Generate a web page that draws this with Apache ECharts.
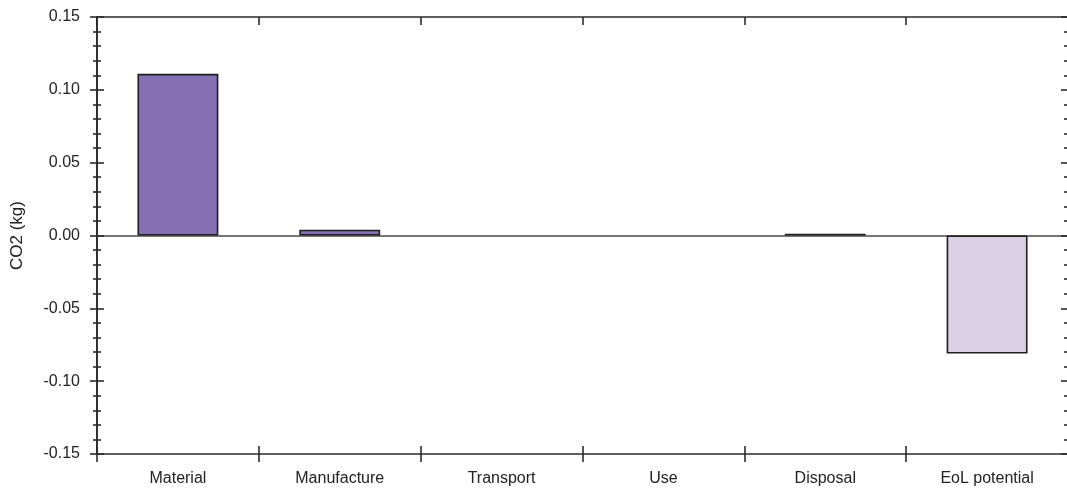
<!DOCTYPE html>
<html>
<head>
<meta charset="utf-8">
<script src="https://cdn.jsdelivr.net/npm/echarts@6/dist/echarts.min.js"></script>
<style>html,body{margin:0;padding:0;background:#fff;}#c{width:1067px;height:491px;}</style>
</head>
<body>
<div id="c"></div>
<script>
var categories = ['Material', 'Manufacture', 'Transport', 'Use', 'Disposal', 'EoL potential'];
var values = [0.111, 0.004, 0, 0, 0.0012, -0.081];
var barColors = ['#8570B3', '#8570B3', '#8570B3', '#8570B3', '#8570B3', '#DCD0E6'];
var yMin = -0.15, yMax = 0.15, yStep = 0.05;

var chart = echarts.init(document.getElementById('c'), null, {renderer: 'canvas'});
var font = 'Liberation Sans, Arial, sans-serif';
var axisCol = '#2a2a2a';
var lw = 1.6;
function yAx(pos, inside, showLabel, showName) {
  return {
    type: 'value', position: pos, min: yMin, max: yMax, interval: yStep,
    name: showName ? 'CO2 (kg)' : '', nameLocation: 'middle', nameGap: 71,
    nameTextStyle: {fontFamily: font, fontSize: 17, color: '#222'},
    axisLine: {show: pos === 'left', lineStyle: {color: axisCol, width: lw}},
    axisTick: {show: true, inside: inside, length: 7, lineStyle: {color: axisCol, width: lw}},
    minorTick: {show: true, splitNumber: 5, length: 4, lineStyle: {color: axisCol, width: lw}},
    splitLine: {show: false},
    axisLabel: {show: showLabel, margin: 17, fontFamily: font, fontSize: 16, color: '#222',
      formatter: function (v) { return v.toFixed(2); }}
  };
}
var option = {
  animation: false,
  grid: {left: 97, top: 17, width: 971, bottom: 37, containLabel: false, outerBoundsMode: 'none'},
  xAxis: [
    {type: 'category', data: categories, position: 'bottom', axisLine: {onZero: false, lineStyle: {color: axisCol, width: lw}},
     axisTick: {show: true, inside: false, length: 8, lineStyle: {color: axisCol, width: lw}},
     axisLabel: {margin: 17, fontFamily: font, fontSize: 16, color: '#222'}},
    {type: 'category', data: categories, position: 'bottom', axisLine: {onZero: false, show: false},
     axisTick: {show: true, inside: true, length: 8, lineStyle: {color: axisCol, width: lw}}, axisLabel: {show: false}},
    {type: 'category', data: categories, position: 'top', axisLine: {onZero: false, lineStyle: {color: axisCol, width: lw}},
     axisTick: {show: true, inside: true, length: 8, lineStyle: {color: axisCol, width: lw}}, axisLabel: {show: false}},
    {type: 'category', data: categories, position: 'bottom', axisLine: {onZero: true, onZeroAxisIndex: 0, lineStyle: {color: '#4a4a4a', width: lw}},
     axisTick: {show: false}, axisLabel: {show: false}}
  ],
  yAxis: [yAx('left', false, true, true), yAx('left', true, false, false), yAx('right', true, false, false)],
  series: [{
    type: 'bar', xAxisIndex: 0, yAxisIndex: 0, barWidth: '50%',
    data: values.map(function (v, i) {
      return {value: v, itemStyle: {color: barColors[i], borderColor: '#1e1e1e', borderWidth: v === 0 ? 0 : 1.6}};
    })
  }]
};
chart.setOption(option);
</script>
</body>
</html>
